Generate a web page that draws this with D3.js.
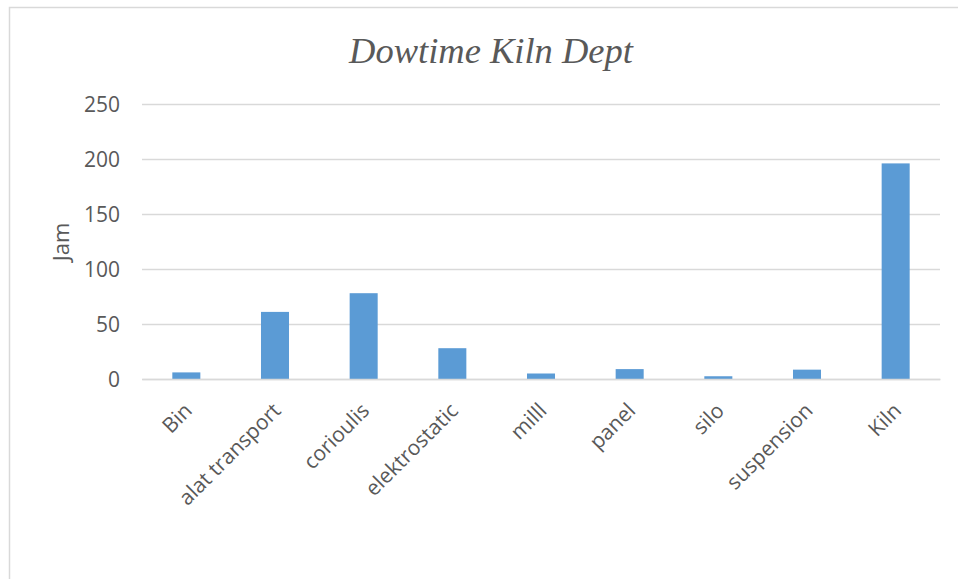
<!DOCTYPE html>
<html>
<head>
<meta charset="utf-8">
<script src="https://cdn.jsdelivr.net/npm/d3@7"></script>
<style>
html,body{margin:0;padding:0;background:#fff;}
svg{display:block;}
</style>
</head>
<body>
<script>
const categories = ["Bin","alat transport","corioulis","elektrostatic","milll","panel","silo","suspension","Kiln"];
const values = [6, 61, 78, 28, 5, 9, 2.5, 8.5, 196];
const yTicks = [0, 50, 100, 150, 200, 250];
const titleText = "Dowtime Kiln Dept";
const yTitle = "Jam";

const W = 958, H = 579;
const svg = d3.select("body").append("svg").attr("width", W).attr("height", H);

// chart frame border (left and top visible)
svg.append("path")
  .attr("d", `M9.5,${H} L9.5,7.5 L${W},7.5`)
  .attr("fill","none").attr("stroke","#d9d9d9").attr("stroke-width",1.5);

const x = d3.scaleBand().domain(categories).range([142, 940]).paddingInner(0.684).paddingOuter(0.342);
const y = d3.scaleLinear().domain([0, 250]).range([379, 104]);

// gridlines
const yAxis = d3.axisLeft(y).tickValues(yTicks).tickSize(-(940-142)).tickFormat(d3.format("d"));
const gy = svg.append("g").attr("transform","translate(142,0)").call(yAxis);
gy.select(".domain").remove();
gy.selectAll(".tick line").attr("stroke","#d9d9d9").attr("stroke-width",1.3);
gy.selectAll(".tick text")
  .attr("x", -22).attr("dy","0.35em")
  .attr("fill","#595959")
  .style("font-family","'Open Sans', sans-serif").style("font-size","21px");

// bars
svg.append("g").selectAll("rect").data(values).join("rect")
  .attr("x", (d,i) => x(categories[i]))
  .attr("width", x.bandwidth())
  .attr("y", d => y(d))
  .attr("height", d => y(0) - y(d))
  .attr("fill", "#5b9bd5");

// x axis labels
const xAxis = d3.axisBottom(x).tickSize(0);
const gx = svg.append("g").attr("transform","translate(0,379)").call(xAxis);
gx.select(".domain").attr("stroke","#d9d9d9").attr("stroke-width",1.3);
gx.selectAll(".tick text")
  .attr("text-anchor","end")
  .attr("x", 0).attr("y", 0).attr("dy", 0)
  .attr("transform","translate(7,33) rotate(-45)")
  .attr("fill","#595959")
  .style("font-family","'Open Sans', sans-serif").style("font-size","21px");

// y axis title
svg.append("text")
  .attr("transform","translate(69,242) rotate(-90)")
  .attr("text-anchor","middle")
  .attr("fill","#595959")
  .style("font-family","'Open Sans', sans-serif").style("font-size","22px")
  .text(yTitle);

// title
svg.append("text")
  .attr("x", 491).attr("y", 63)
  .attr("text-anchor","middle")
  .attr("fill","#595959")
  .style("font-family","'Liberation Serif', serif").style("font-style","italic").style("font-size","36.5px")
  .text(titleText);
</script>
</body>
</html>
